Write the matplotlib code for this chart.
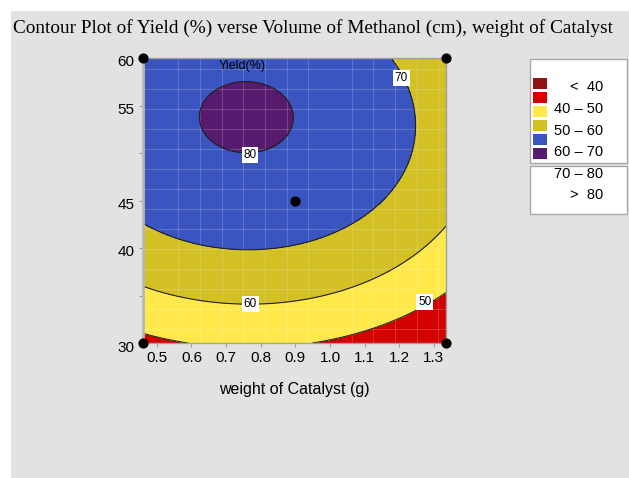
import numpy as np
import matplotlib
matplotlib.use("Agg")
import matplotlib.pyplot as plt
from matplotlib.patches import Rectangle
from matplotlib.transforms import ScaledTranslation
from matplotlib.ticker import MultipleLocator

# response-surface coefficients (coded units) fitted to the contours
# terms: const, u, v, u^2, v^2, u*v, v^3, u^2*v ; u = (w-0.9)/0.45, v = (vol-45)/15
surface_coef = [75.617, -5.234, 14.507, -8.524, -11.601, -0.981, -1.044, -1.212]
x_center, x_half = 0.9, 0.45
y_center, y_half = 45.0, 15.0

xtick_vals = [0.5, 0.6, 0.7, 0.8, 0.9, 1.0, 1.1, 1.2, 1.3]
ytick_vals = [30, 35, 40, 45, 50, 55, 60]
ytick_labels = ['30', '', '40', '45', '', '55', '60']
design_x = [0.46, 1.335, 0.46, 1.335, 0.9]
design_y = [30, 30, 60, 60, 45]
levels = [40, 50, 60, 70, 80]
legend_labels = ['<  40', '40 – 50', '50 – 60', '60 – 70', '70 – 80', '>  80']
contour_labels = ['70', '80', '60', '50']
contour_label_x = [1.206, 0.769, 0.77, 1.274]
contour_label_y = [57.9, 49.8, 34.1, 34.3]
colors = ['#8e1414', '#d40000', '#ffe84a', '#d2c024', '#3a55c0', '#561a6e']

W, H = 629, 478
fig = plt.figure(figsize=(W/100, H/100), dpi=100)
fig.patch.set_facecolor('white')
fig.patches.append(Rectangle((11/W, 0), (W-11)/W, (H-11)/H, transform=fig.transFigure,
                             facecolor='#e2e2e2', edgecolor='none', zorder=-5))
sans = ['Liberation Sans', 'DejaVu Sans']
fig.text(313/W, 1-28/H, 'Contour Plot of Yield (%) verse Volume of Methanol (cm), weight of Catalyst',
         family=['Liberation Serif', 'DejaVu Serif'], fontsize=13.9, ha='center', va='center')

ax = fig.add_axes([143/W, 1-343/H, 303/W, 285/H])
ax.set_zorder(2)
xs = np.linspace(0.46, 1.335, 300)
ys = np.linspace(30, 60, 300)
X, Y = np.meshgrid(xs, ys)
U = (X - x_center)/x_half
V = (Y - y_center)/y_half
c = surface_coef
Z = c[0] + c[1]*U + c[2]*V + c[3]*U*U + c[4]*V*V + c[5]*U*V + c[6]*V**3 + c[7]*U*U*V
ax.contourf(X, Y, Z, levels=[-1e3] + levels + [1e3], colors=colors)
ax.contour(X, Y, Z, levels=levels, colors='#202020', linewidths=0.8)
ax.set_xlim(0.46, 1.335)
ax.set_ylim(30, 60)
ax.xaxis.set_minor_locator(MultipleLocator(0.0625))
ax.yaxis.set_minor_locator(MultipleLocator(2.1))
ax.grid(which='minor', color='white', alpha=0.18, linewidth=0.8)
ax.set_xticks(xtick_vals)
ax.set_xticklabels([f'{t:.1f}' for t in xtick_vals])
ax.set_yticks(ytick_vals)
ax.set_yticklabels(ytick_labels)
ax.tick_params(which='major', length=3, color='#9a9a9a', labelsize=11, pad=3)
ax.tick_params(which='minor', length=0)
off = ScaledTranslation(0, -3/100, fig.dpi_scale_trans)
for t in ax.get_yticklabels():
    t.set_transform(t.get_transform() + off)
for t in ax.get_xticklabels() + ax.get_yticklabels():
    t.set_family(sans)
for s in ax.spines.values():
    s.set_color('#a0a0a0')
    s.set_linewidth(1.0)
ax.spines['left'].set_color('#b8b8b8')
ax.spines['left'].set_linewidth(2)
ax.set_xlabel('weight of Catalyst (g)', family=sans, fontsize=11.5, labelpad=12)
ax.scatter(design_x, design_y, s=40, color='black', clip_on=False, zorder=5)
ax.text((242-143)/303, (343-66)/285, 'Yield(%)', transform=ax.transAxes, ha='center', va='center',
        family=sans, fontsize=9)
for lab, lx, ly in zip(contour_labels, contour_label_x, contour_label_y):
    ax.text(lx, ly, lab, ha='center', va='center', family=sans, fontsize=8.5,
            bbox=dict(boxstyle='square,pad=0.15', fc='white', ec='none'))

def P(x, y):
    return (x/W, 1-y/H)

fig.patches.append(Rectangle(P(530, 163), 97/W, 104/H, transform=fig.transFigure,
                             fc='white', ec='#a8a8a8', lw=1, zorder=1))
fig.patches.append(Rectangle(P(530, 214), 97/W, 48/H, transform=fig.transFigure,
                             fc='white', ec='#a8a8a8', lw=1, zorder=1))
for i, col in enumerate(colors):
    fig.patches.append(Rectangle(P(533, 89+14*i), 14/W, 11/H, transform=fig.transFigure,
                                 fc=col, ec='none', zorder=2))
for lab, yy in zip(legend_labels, [86.7, 109.3, 130.7, 151.7, 174, 195]):
    fig.text(603/W, 1-yy/H, lab, ha='right', va='center', family=sans, fontsize=10.5, zorder=3)
fig.savefig("out.png")
